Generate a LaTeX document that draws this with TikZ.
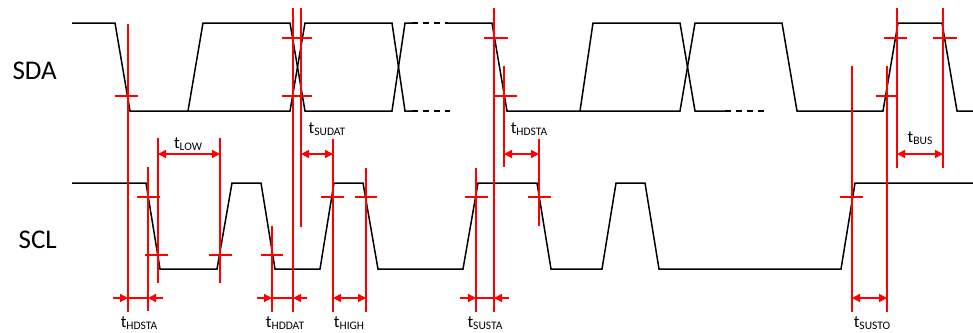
\documentclass[tikz,border=0pt]{standalone}
\usepackage{fontspec}
\setmainfont{Carlito}
\usetikzlibrary{arrows.meta}
\newcommand{\tname}[1]{{\fontsize{17}{17}\selectfont t}\raisebox{-2pt}{\fontsize{11.5}{11.5}\selectfont #1}}
\tikzset{
  wave/.style={line width=1.5pt},
  wavegap/.style={wave, dash pattern=on 6pt off 5pt},
  redline/.style={red, line width=1.5pt},
  dimto/.style={redline, -{Triangle[length=8pt,width=8pt]}},
  dimboth/.style={redline, {Triangle[length=8pt,width=8pt]}-{Triangle[length=8pt,width=8pt]}},
  tlabel/.style={anchor=base, inner sep=0pt},
  siglabel/.style={anchor=base east, inner sep=0pt, font=\fontsize{27}{27}\selectfont}
}
\begin{document}
\begin{tikzpicture}[x=1pt, y=-1pt]
    \useasboundingbox (0,0) rectangle (973,332);
    \node[siglabel] (sda) at (57,79) {SDA};
    \node[siglabel] (scl) at (57,248) {SCL};
    \draw[wave] (72,23) -- (115,23) -- (130,111) -- (290,111) -- (305,23) -- (392,23) -- (405,111) -- (412,111);
    \draw[wavegap] (412,111) -- (450,111);
    \draw[wave] (188,111) -- (203,23) -- (290,23) -- (305,111) -- (392,111) -- (405,23) -- (412,23);
    \draw[wavegap] (412,23) -- (448,23);
    \draw[wave] (448,23) -- (492,23) -- (507,111) -- (680,111) -- (695,23) -- (782,23) -- (797,111) -- (883,111)
    -- (898,23) -- (942,23) -- (957,111) -- (973,111);
    \draw[wave] (580,111) -- (593,23) -- (680,23) -- (695,111) -- (725,111);
    \draw[wavegap] (725,111) -- (768,111);
    \draw[wave] (72,183) -- (146,183) -- (160,269) -- (217,269) -- (232,183) -- (261,183) -- (275,269) -- (320,269)
    -- (334,183) -- (363,183) -- (378,269) -- (463,269) -- (478,183) -- (537,183) -- (551,269) -- (602,269)
    -- (616,183) -- (645,183) -- (659,269) -- (841,269) -- (855,183) -- (973,183);
    \draw[redline] (128,24) -- (128,312) (148,167) -- (148,311) (158,138) -- (158,283) (220,138) -- (220,283)
    (272,226) -- (272,312) (293,8) -- (293,312) (301,8) -- (301,227) (333,139) -- (333,312) (366,168) -- (366,312)
    (476,168) -- (476,312) (494,8) -- (494,312) (504,66) -- (504,167) (539,139) -- (539,226)
    (852,66) -- (852,312) (887,66) -- (887,312) (897,8) -- (897,168) (943,8) -- (943,168);
    \draw[redline] (115,96) -- (138,96) (282,38) -- (312,38) (282,96) -- (312,96) (484,38) -- (508,38)
    (494,96) -- (517,96) (876,96) -- (898,96) (884,38) -- (907,38) (933,38) -- (957,38);
    \draw[redline] (137,197) -- (160,197) (145,255) -- (168,255) (209,255) -- (232,255) (261,255) -- (283,255)
    (321,197) -- (344,197) (355,197) -- (377,197) (465,197) -- (488,197) (528,197) -- (551,197) (840,197) -- (863,197);
    \draw[dimboth] (158,154) -- (220,154);
    \draw[dimboth] (301,154) -- (333,154);
    \draw[dimboth] (504,154) -- (539,154);
    \draw[dimboth] (897,154) -- (943,154);
    \draw[redline] (128,298) -- (148,298) (272,298) -- (293,298) (476,298) -- (494,298);
    \draw[dimto] (113,298) -- (128,298);
    \draw[dimto] (163,298) -- (148,298);
    \draw[dimto] (257,298) -- (272,298);
    \draw[dimto] (307,298) -- (293,298);
    \draw[dimto] (460,298) -- (476,298);
    \draw[dimto] (509,298) -- (494,298);
    \draw[dimboth] (333,298) -- (366,298);
    \draw[dimboth] (852,298) -- (887,298);
    \node[tlabel] (tlow) at (188,148) {\tname{LOW}};
    \node[tlabel] (tsudat) at (327,133) {\tname{SUDAT}};
    \node[tlabel] (thdsta2) at (529,133) {\tname{HDSTA}};
    \node[tlabel] (tbus) at (920,142) {\tname{BUS}};
    \node[tlabel] (thdsta1) at (139,327) {\tname{HDSTA}};
    \node[tlabel] (thddat) at (285,327) {\tname{HDDAT}};
    \node[tlabel] (thigh) at (349,327) {\tname{HIGH}};
    \node[tlabel] (tsusta) at (485,327) {\tname{SUSTA}};
    \node[tlabel] (tsusto) at (872,327) {\tname{SUSTO}};
  \end{tikzpicture}
\end{document}
